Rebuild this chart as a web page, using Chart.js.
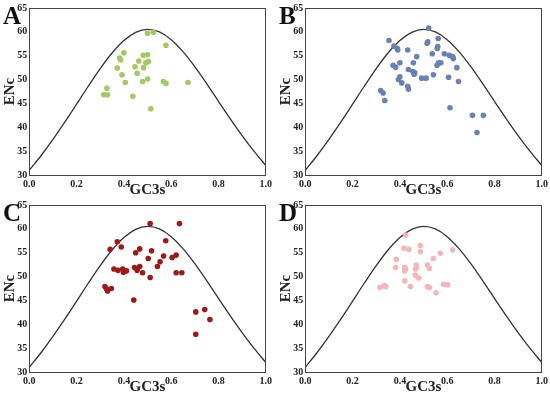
<!DOCTYPE html>
<html>
<head>
<meta charset="utf-8">
<script src="https://cdn.jsdelivr.net/npm/chart.js@4.4.0/dist/chart.umd.min.js"></script>
<style>
  body { margin: 0; background: #fff; width: 550px; height: 396px; position: relative; overflow: hidden; }
  .panel { position: absolute; width: 275px; height: 198px; }
  .panel canvas { display: block; }
  .tag { position: absolute; left: 3px; top: 3px; font: bold 25px "Liberation Serif", serif; color: #111; line-height: 1; }
</style>
</head>
<body>
<div class="panel" style="left:0;top:0"><canvas id="cA" width="275" height="198"></canvas><div class="tag">A</div></div>
<div class="panel" style="left:276px;top:0"><canvas id="cB" width="275" height="198"></canvas><div class="tag">B</div></div>
<div class="panel" style="left:0;top:197px"><canvas id="cC" width="275" height="198"></canvas><div class="tag">C</div></div>
<div class="panel" style="left:276px;top:197px"><canvas id="cD" width="275" height="198"></canvas><div class="tag">D</div></div>
<script>
// expected ENc curve, read at GC3s steps of 0.05
const curveGC3 = [0, 0.05, 0.1, 0.15, 0.2, 0.25, 0.3, 0.35, 0.4, 0.45, 0.5, 0.55, 0.6, 0.65, 0.7, 0.75, 0.8, 0.85, 0.9, 0.95, 1.0];
const curveENc = [31.0, 34.09, 37.47, 41.08, 44.85, 48.65, 52.3, 55.56, 58.17, 59.88, 60.5, 59.98, 58.37, 55.86, 52.7, 49.15, 45.45, 41.78, 38.27, 34.99, 32.0];

const xTicks = [0, 0.2, 0.4, 0.6, 0.8, 1.0];
const yTicks = [30, 35, 40, 45, 50, 55, 60, 65];

const aGC3 = [0.500, 0.525, 0.578, 0.400, 0.382, 0.386, 0.482, 0.500, 0.463, 0.504, 0.493, 0.447, 0.483, 0.372, 0.456, 0.392, 0.406, 0.479, 0.500, 0.567, 0.578, 0.671, 0.328, 0.315, 0.331, 0.438, 0.514];
const aENc = [59.7, 59.9, 57.2, 55.6, 54.5, 54.1, 55.1, 55.2, 53.9, 53.8, 53.5, 52.7, 52.5, 52.4, 51.3, 51.0, 49.4, 49.6, 50.1, 49.6, 49.2, 49.4, 48.2, 46.8, 46.8, 46.5, 43.9];

const bGC3 = [0.522, 0.354, 0.375, 0.389, 0.391, 0.433, 0.518, 0.515, 0.562, 0.560, 0.558, 0.537, 0.588, 0.609, 0.623, 0.626, 0.471, 0.371, 0.382, 0.400, 0.436, 0.457, 0.455, 0.463, 0.460, 0.557, 0.564, 0.573, 0.641, 0.492, 0.511, 0.542, 0.606, 0.648, 0.400, 0.394, 0.408, 0.433, 0.436, 0.319, 0.329, 0.336, 0.612, 0.707, 0.753, 0.726];
const bENc = [60.8, 58.2, 57.0, 56.5, 56.2, 56.2, 57.9, 57.6, 58.6, 56.9, 56.5, 55.4, 55.4, 55.1, 54.8, 54.4, 54.8, 53.0, 52.6, 53.5, 52.1, 53.5, 51.7, 51.4, 51.1, 53.0, 53.5, 53.5, 52.5, 50.3, 50.3, 51.0, 50.5, 49.6, 50.6, 50.0, 49.3, 48.6, 48.0, 47.7, 47.2, 45.6, 44.1, 42.5, 42.5, 38.9];

const cGC3 = [0.511, 0.635, 0.577, 0.372, 0.342, 0.389, 0.467, 0.450, 0.517, 0.503, 0.568, 0.604, 0.621, 0.553, 0.542, 0.358, 0.375, 0.395, 0.398, 0.411, 0.445, 0.467, 0.456, 0.479, 0.511, 0.621, 0.645, 0.320, 0.331, 0.347, 0.327, 0.442, 0.704, 0.742, 0.764, 0.704];
const cENc = [61.1, 61.1, 57.5, 57.3, 55.7, 56.2, 55.8, 55.0, 55.4, 53.8, 54.3, 54.0, 54.5, 53.1, 52.1, 51.6, 51.3, 51.6, 50.9, 51.2, 51.9, 52.1, 51.3, 50.8, 49.8, 50.8, 50.8, 47.9, 47.0, 47.5, 47.4, 45.1, 42.6, 43.1, 41.0, 37.9];

const dGC3 = [0.424, 0.417, 0.438, 0.487, 0.487, 0.385, 0.542, 0.382, 0.421, 0.424, 0.420, 0.469, 0.471, 0.466, 0.517, 0.525, 0.466, 0.480, 0.421, 0.445, 0.316, 0.333, 0.340, 0.516, 0.525, 0.553, 0.585, 0.602, 0.571, 0.623];
const dENc = [58.7, 56.0, 55.7, 56.5, 55.2, 53.6, 53.8, 51.9, 51.9, 51.5, 51.2, 52.4, 51.9, 51.6, 52.4, 51.7, 50.3, 49.7, 49.1, 47.9, 47.7, 48.1, 47.9, 47.9, 47.7, 46.6, 48.4, 48.3, 54.9, 55.6];

const tickFont = { family: '"Liberation Serif", serif', size: 10, weight: 'bold' };
const titleFont = { family: '"Liberation Serif", serif', size: 15, weight: 'bold', lineHeight: 1 };

// box round the plot area
const frame = {
    id: 'frame',
    afterDraw(chart) {
        const a = chart.chartArea;
        const ctx = chart.ctx;
        ctx.save();
        ctx.strokeStyle = '#444';
        ctx.lineWidth = 1;
        ctx.strokeRect(Math.round(a.left) + 0.5, Math.round(a.top) + 0.5, Math.round(a.right - a.left), Math.round(a.bottom - a.top));
        ctx.restore();
    }
};

function makePanel(id, xs, ys, color) {
    const pts = xs.map((x, i) => ({ x: x, y: ys[i] }));
    const curve = curveGC3.map((x, i) => ({ x: x, y: curveENc[i] }));
    new Chart(document.getElementById(id), {
        type: 'scatter',
        data: {
            datasets: [
                { data: pts, backgroundColor: color, borderWidth: 0, pointRadius: 2.8 },
                { data: curve, showLine: true, borderColor: '#333', borderWidth: 1.3, pointRadius: 0, cubicInterpolationMode: 'monotone' }
            ]
        },
        options: {
            responsive: false,
            animation: false,
            layout: { padding: { top: 7, right: 8, left: 0, bottom: 0 } },
            plugins: { legend: { display: false }, tooltip: { enabled: false } },
            scales: {
                x: {
                    type: 'linear', min: 0, max: 1,
                    afterBuildTicks: s => { s.ticks = xTicks.map(v => ({ value: v })); },
                    afterFit: s => { s.height = 23; },
                    grid: { display: false, drawTicks: false },
                    border: { display: false },
                    ticks: { font: tickFont, color: '#222', padding: 3, maxRotation: 0, callback: v => v.toFixed(1) },
                    title: { display: true, text: 'GC3s', font: titleFont, color: '#222', padding: { top: 0, bottom: 0.5 } }
                },
                y: {
                    type: 'linear', min: 30, max: 65,
                    afterBuildTicks: s => { s.ticks = yTicks.map(v => ({ value: v })); },
                    afterFit: s => { s.width = 29.3; },
                    grid: { display: false, drawTicks: false },
                    border: { display: false },
                    ticks: { font: tickFont, color: '#222', padding: 2 },
                    title: { display: true, text: 'ENc', font: titleFont, color: '#222', padding: { top: 3, bottom: 0 } }
                }
            }
        },
        plugins: [frame]
    });
}

makePanel('cA', aGC3, aENc, '#a3c866');
makePanel('cB', bGC3, bENc, '#6b80b3');
makePanel('cC', cGC3, cENc, '#9c1a1a');
makePanel('cD', dGC3, dENc, '#f4b6b9');
</script>
</body>
</html>
